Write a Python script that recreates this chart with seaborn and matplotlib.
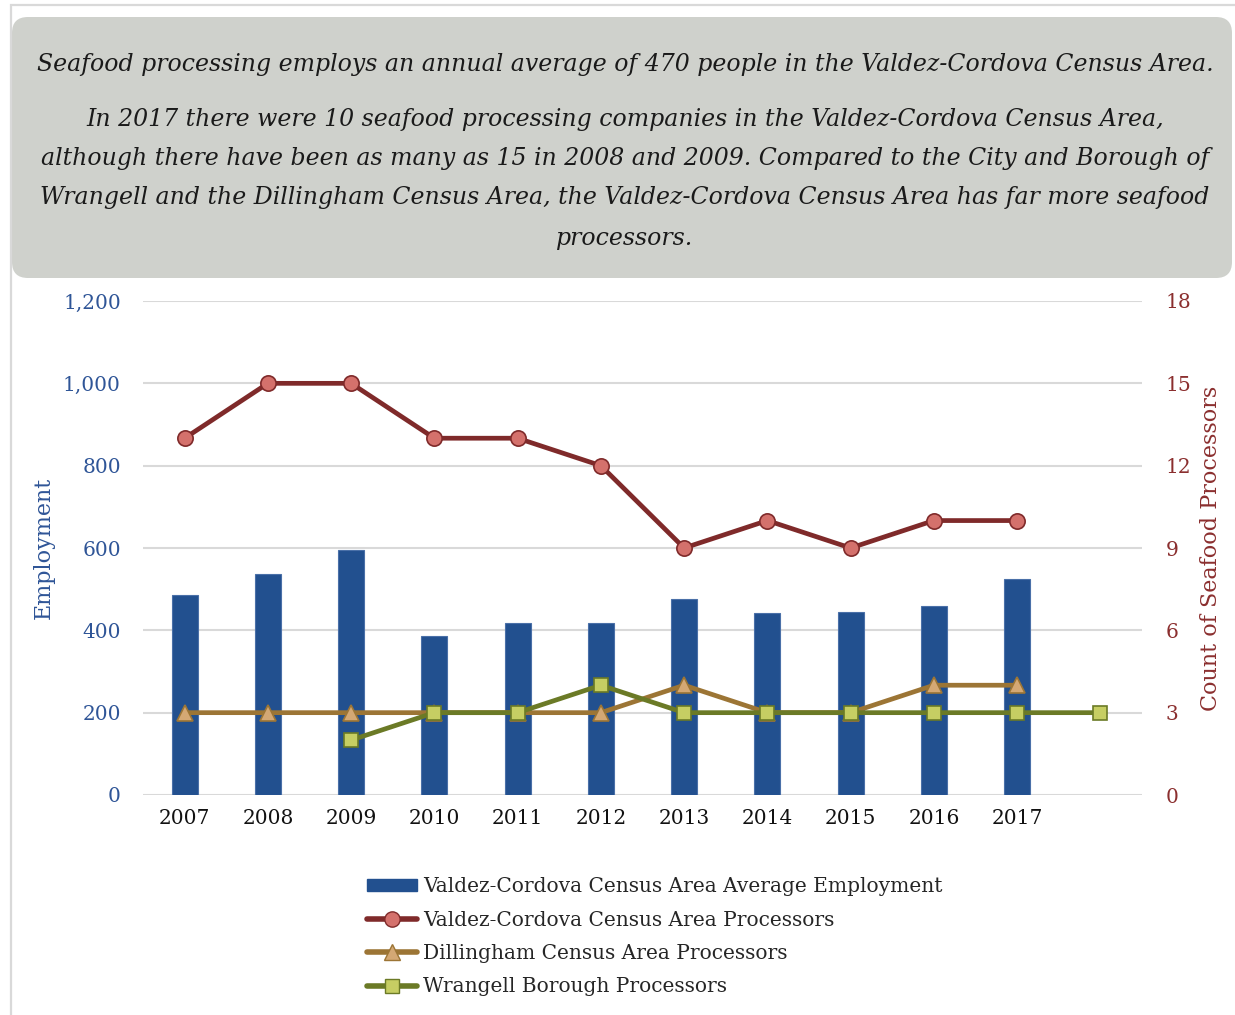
import numpy as np
import pandas as pd
import matplotlib
matplotlib.use("Agg")
import matplotlib.pyplot as plt
from matplotlib.patches import FancyBboxPatch, Patch
from matplotlib.lines import Line2D
import seaborn as sns

years = ["2007", "2008", "2009", "2010", "2011", "2012", "2013", "2014", "2015", "2016", "2017", ""]
employment = [486, 538, 596, 386, 418, 417, 475, 442, 444, 458, 524, np.nan]
valdez_proc = [13, 15, 15, 13, 13, 12, 9, 10, 9, 10, 10, np.nan]
dillingham_proc = [3, 3, 3, 3, 3, 3, 4, 3, 3, 4, 4, np.nan]
wrangell_proc = [np.nan, np.nan, 2, 3, 3, 4, 3, 3, 3, 3, 3, 3]

title_lines = [
    "Seafood processing employs an annual average of 470 people in the Valdez-Cordova Census Area.",
    "In 2017 there were 10 seafood processing companies in the Valdez-Cordova Census Area,",
    "although there have been as many as 15 in 2008 and 2009. Compared to the City and Borough of",
    "Wrangell and the Dillingham Census Area, the Valdez-Cordova Census Area has far more seafood",
    "processors.",
]
legend_labels = [
    "Valdez-Cordova Census Area Average Employment",
    "Valdez-Cordova Census Area Processors",
    "Dillingham Census Area Processors",
    "Wrangell Borough Processors",
]

sns.set_theme(style="white")
plt.rcParams["font.family"] = ["DejaVu Serif"]

W, H = 1235, 1015
fig = plt.figure(figsize=(W / 100, H / 100), dpi=100)

BLUE = "#22508F"
BLUE_TXT = "#2F5597"
RED_LINE = "#7F2A2A"
RED_FILL = "#D4716C"
TAN_LINE = "#9C7535"
TAN_FILL = "#D4A874"
OLIVE_LINE = "#6B7A26"
OLIVE_FILL = "#C6CE63"
RED_TXT = "#8B2F2F"

# background layer in pixel coordinates
bg = fig.add_axes([0, 0, 1, 1], zorder=-10)
bg.set_xlim(0, W)
bg.set_ylim(H, 0)
bg.axis("off")
bg.plot([10.5, 10.5, W], [H, 5, 5], color="#D9D9D9", lw=1.6, solid_joinstyle="miter")
box = FancyBboxPatch((12, 17), 1232 - 12, 278 - 17,
                     boxstyle="round,pad=0,rounding_size=16", mutation_aspect=1,
                     facecolor="#CFD1CC", edgecolor="none")
bg.add_patch(box)
line_y = [64, 119, 158, 197, 238]
for txt, yy in zip(title_lines, line_y):
    bg.text(625, yy, txt, ha="center", va="center", style="italic",
            fontsize=17.0, color="#1a1a1a")

ax = fig.add_axes([143 / W, 1 - 795 / H, (1142 - 143) / W, (795 - 301) / H])
df = pd.DataFrame({"year": years, "employment": employment})
sns.barplot(data=df, x="year", y="employment", order=years, color=BLUE, width=0.31,
            saturation=1, edgecolor="#4A70A8", linewidth=0.8, ax=ax, zorder=2)
ax.set_xlim(-0.5, len(years) - 0.5)
ax.set_ylim(0, 1200)
ax.set_yticks(np.arange(0, 1201, 200))
ax.set_yticklabels([f"{v:,}" for v in range(0, 1201, 200)])
ax.yaxis.grid(True, color="#D9D9D9", linewidth=1.5, zorder=0)
ax.xaxis.grid(False)
ax.set_axisbelow(True)
for s in ax.spines.values():
    s.set_visible(False)
ax.tick_params(axis="y", colors=BLUE_TXT, labelsize=14.5, length=0, pad=16)
ax.tick_params(axis="x", colors="#111111", labelsize=14.5, length=0, pad=10)
ax.set_xlabel("")
ax.set_ylabel("Employment", color=BLUE_TXT, fontsize=16, labelpad=6)

ax2 = ax.twinx()
pos = np.arange(len(years))
sns.lineplot(x=pos, y=valdez_proc, ax=ax2, color=RED_LINE, linewidth=3.4, marker="o",
             markersize=11, markerfacecolor=RED_FILL, markeredgecolor=RED_LINE,
             markeredgewidth=1.2, zorder=5)
sns.lineplot(x=pos, y=dillingham_proc, ax=ax2, color=TAN_LINE, linewidth=3.4, marker="^",
             markersize=11, markerfacecolor=TAN_FILL, markeredgecolor=TAN_LINE,
             markeredgewidth=1.2, zorder=4)
sns.lineplot(x=pos, y=wrangell_proc, ax=ax2, color=OLIVE_LINE, linewidth=3.4, marker="s",
             markersize=10, markerfacecolor=OLIVE_FILL, markeredgecolor=OLIVE_LINE,
             markeredgewidth=1.2, zorder=6)
ax2.set_ylim(0, 18)
ax2.set_yticks(np.arange(0, 19, 3))
ax2.grid(False)
for s in ax2.spines.values():
    s.set_visible(False)
ax2.tick_params(axis="y", colors=RED_TXT, labelsize=14.5, length=0, pad=17)
ax2.set_ylabel("Count of Seafood Processors", color=RED_TXT, fontsize=16, labelpad=6)
ax2.set_xlim(-0.5, len(years) - 0.5)

handles = [
    Patch(facecolor=BLUE, edgecolor=BLUE),
    Line2D([], [], color=RED_LINE, lw=4, marker="o", ms=11, mfc=RED_FILL, mec=RED_LINE),
    Line2D([], [], color=TAN_LINE, lw=4, marker="^", ms=11, mfc=TAN_FILL, mec=TAN_LINE),
    Line2D([], [], color=OLIVE_LINE, lw=4, marker="s", ms=10, mfc=OLIVE_FILL, mec=OLIVE_LINE),
]
fig.legend(handles, legend_labels, loc="upper left", bbox_to_anchor=(367 / W, 1 - 877 / H),
           frameon=False, fontsize=14.5, handlelength=2.5, handleheight=0.6,
           handletextpad=0.3, labelspacing=0.72, borderpad=0, borderaxespad=0)

fig.savefig("out.png", dpi=100)
